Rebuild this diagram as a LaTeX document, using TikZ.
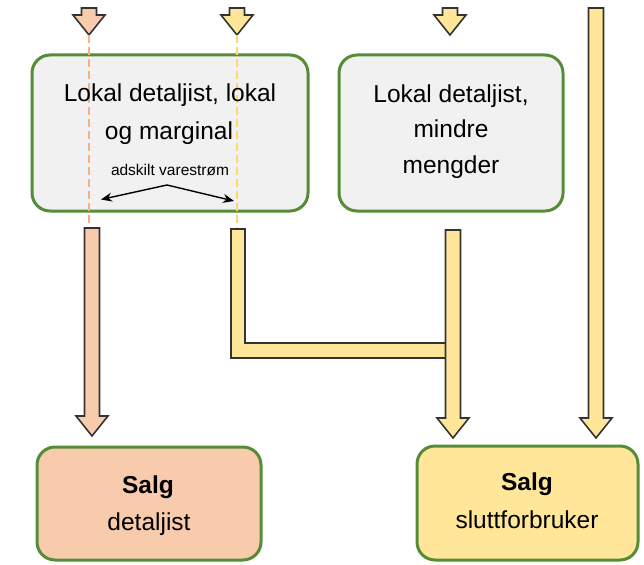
\documentclass[tikz,border=0pt]{standalone}
\usepackage{fontspec}
\setmainfont{Liberation Sans}
\usetikzlibrary{calc,arrows.meta}
\definecolor{boxgreen}{HTML}{568C38}
\definecolor{boxgrey}{HTML}{F1F1F1}
\definecolor{peach}{HTML}{F8CBAD}
\definecolor{ylw}{HTML}{FFE699}
\definecolor{peachdash}{HTML}{F4B183}
\definecolor{ylwdash}{HTML}{FFD966}
\definecolor{outl}{HTML}{333333}
\tikzset{
  box/.style={draw=boxgreen, line width=3pt, rounded corners=18pt, rectangle, inner sep=0pt},
  bigtext/.style={font=\fontsize{24.5}{30}\selectfont, anchor=base, inner sep=0pt, text=black},
  boldtext/.style={font=\fontsize{24.5}{30}\selectfont\bfseries, anchor=base, inner sep=0pt, text=black},
  smalltext/.style={font=\fontsize{15.5}{18}\selectfont, anchor=base, inner sep=0pt, text=black},
  arrowline/.style={draw=outl, line width=1.6pt, line join=miter},
  flowdash/.style={line width=2pt, dash pattern=on 8pt off 4pt},
  splitarrow/.style={line width=1.4pt, -{Stealth[length=11pt,width=9pt]}, black}
}
\newcommand{\blockarrow}[3]{%
  \filldraw[arrowline, fill=#1] let \p1=(#2), \p2=(#3) in
    (\x1-7.5pt,\y1) -- (\x1-7.5pt,\y2+20pt) -- (\x1-16pt,\y2+20pt) -- (\x1,\y2)
    -- (\x1+16pt,\y2+20pt) -- (\x1+7.5pt,\y2+20pt) -- (\x1+7.5pt,\y1) -- cycle;}
\begin{document}
\begin{tikzpicture}[x=1pt,y=-1pt]
\useasboundingbox (0,0) rectangle (644,564);

% boxes
\node[box, fill=boxgrey, minimum width=276pt, minimum height=156pt] (A) at (170,133) {};
\node[box, fill=boxgrey, minimum width=224pt, minimum height=156pt] (B) at (451,133) {};
\node[box, fill=peach, minimum width=224pt, minimum height=113pt] (C) at (149,503.5) {};
\node[box, fill=ylw, minimum width=221pt, minimum height=114pt] (D) at (527.5,503) {};

% coordinates of arrow ends
\coordinate (pinIn) at (89,8);    \coordinate (pinInEnd) at (89,35);
\coordinate (yelIn) at (237,8);   \coordinate (yelInEnd) at (237,35);
\coordinate (bIn) at (450,8);     \coordinate (bInEnd) at (450,35);
\coordinate (farIn) at (596,8);   \coordinate (farEnd) at (596,438);
\coordinate (pinOut) at (92,228); \coordinate (pinOutEnd) at (92,436);
\coordinate (yelOut) at (238,229);
\coordinate (bOut) at (453,230);  \coordinate (bOutEnd) at (453,438);
\coordinate (joinL) at (238,350.5);

% incoming arrows
\blockarrow{peach}{pinIn}{pinInEnd}
\blockarrow{ylw}{yelIn}{yelInEnd}
\blockarrow{ylw}{bIn}{bInEnd}
\blockarrow{ylw}{farIn}{farEnd}

% separated flows (dashed)
\draw[flowdash, peachdash] (pinInEnd) -- (pinIn |- pinOut);
\draw[flowdash, ylwdash] (yelInEnd) -- (yelIn |- yelOut);

% outgoing arrows
\blockarrow{peach}{pinOut}{pinOutEnd}
\filldraw[arrowline, fill=ylw] ($(yelOut)+(-7,0)$) -- ($(joinL)+(-7,7.5)$) -- ($(joinL -| bOut)+(0,7.5)$)
  -- ($(joinL -| bOut)+(0,-7.5)$) -- ($(joinL)+(7,-7.5)$) -- ($(yelOut)+(7,0)$) -- cycle;
\blockarrow{ylw}{bOut}{bOutEnd}

% texts
\node[bigtext] (a1) at (170,102) {Lokal detaljist, lokal};
\node[bigtext] (a2) at (169,140) {og marginal};
\node[smalltext] (a3) at (170,175.5) {adskilt varestrøm};
\coordinate (splitStart) at (167,185);
\coordinate (splitL) at (101,199.5);
\coordinate (splitR) at (234,201);
\draw[splitarrow] (splitStart) -- (splitL);
\draw[splitarrow] (splitStart) -- (splitR);

\node[bigtext] (b1) at (451,103) {Lokal detaljist,};
\node[bigtext] (b2) at (451,138) {mindre};
\node[bigtext] (b3) at (451,173) {mengder};

\node[boldtext] (c1) at (148,493) {Salg};
\node[bigtext] (c2) at (149,530) {detaljist};

\node[boldtext] (d1) at (527,490) {Salg};
\node[bigtext] (d2) at (527,528) {sluttforbruker};
\end{tikzpicture}
\end{document}
